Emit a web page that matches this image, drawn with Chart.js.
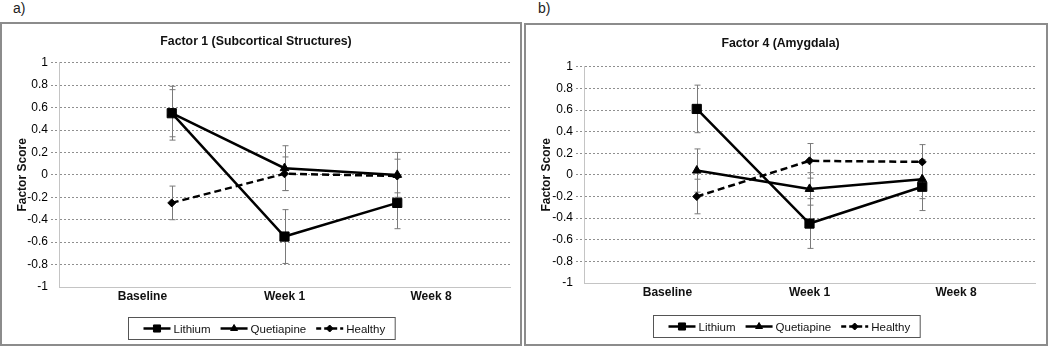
<!DOCTYPE html>
<html>
<head>
<meta charset="utf-8">
<script src="https://cdn.jsdelivr.net/npm/chart.js@4.4.0/dist/chart.umd.min.js"></script>
<style>
  body { margin: 0; background: #fff; font-family: Arial, "Liberation Sans", sans-serif; }
  .tag { position: absolute; top: 0; font-size: 14px; line-height: 17px; color: #222; }
  .frame { position: absolute; border: 2px solid #8c8c8c; box-sizing: border-box; background: #fff; }
  canvas { display: block; }
</style>
</head>
<body>
<div class="tag" style="left:13px">a)</div>
<div class="tag" style="left:538px">b)</div>
<div class="frame" style="left:0;top:22px;width:522px;height:324px"><canvas id="f1" width="518" height="320"></canvas></div>
<div class="frame" style="left:524px;top:23px;width:524px;height:323px"><canvas id="f4" width="520" height="319"></canvas></div>
<script>
const categories = ['Baseline', 'Week 1', 'Week 8'];
const seriesNames = ['Lithium', 'Quetiapine', 'Healthy'];

// Factor 1 (Subcortical Structures)
const f1Lithium = [0.55, -0.55, -0.25];
const f1LithiumErr = [0.24, 0.24, 0.23];
const f1Quetiapine = [0.55, 0.06, 0.0];
const f1QuetiapineErr = [0.21, 0.2, 0.2];
const f1Healthy = [-0.25, 0.01, -0.01];
const f1HealthyErr = [0.15, 0.15, 0.15];

// Factor 4 (Amygdala)
const f4Lithium = [0.61, -0.45, -0.11];
const f4LithiumErr = [0.22, 0.23, 0.22];
const f4Quetiapine = [0.04, -0.13, -0.04];
const f4QuetiapineErr = [0.2, 0.15, 0.18];
const f4Healthy = [-0.2, 0.13, 0.12];
const f4HealthyErr = [0.16, 0.16, 0.16];

Chart.defaults.font.family = 'Arial, "Liberation Sans", sans-serif';
Chart.defaults.color = '#000';

// excel puts the category labels a bit off the points
const labelSlots = [0.74, 2, 3.3];

const styles = [
  { pointStyle: 'rect', pointRadius: 6.5, legendRadius: 5, dash: [], legendDash: [] },
  { pointStyle: 'triangle', pointRadius: 5, legendRadius: 4, dash: [], legendDash: [] },
  { pointStyle: 'rectRot', pointRadius: 4, legendRadius: 3.5, dash: [7, 4], legendDash: [5, 3] },
];

const errorBars = {
  id: 'errorBars',
  beforeDatasetsDraw(chart) {
    const { ctx } = chart;
    const y = chart.scales.y;
    ctx.save();
    ctx.strokeStyle = '#7a7a7a';
    ctx.lineWidth = 1;
    chart.data.datasets.forEach((ds, i) => {
      const meta = chart.getDatasetMeta(i);
      ds.data.forEach((pt, j) => {
        const e = ds.errors[j];
        const x = Math.round(meta.data[j].x) + 0.5;
        const top = y.getPixelForValue(pt.y + e);
        const bot = y.getPixelForValue(pt.y - e);
        ctx.beginPath();
        ctx.moveTo(x, top); ctx.lineTo(x, bot);
        ctx.moveTo(x - 3, top); ctx.lineTo(x + 3, top);
        ctx.moveTo(x - 3, bot); ctx.lineTo(x + 3, bot);
        ctx.stroke();
      });
    });
    ctx.restore();
  }
};

const boxLegend = {
  id: 'boxLegend',
  afterDraw(chart, args, opts) {
    const { ctx } = chart;
    const lineLen = 27, padL = 15, padR = 10, gap = 10, h = 22;
    ctx.save();
    ctx.font = '11.5px Arial, "Liberation Sans", sans-serif';
    const widths = chart.data.datasets.map(ds => lineLen + 3 + ctx.measureText(ds.label).width);
    const total = padL + padR + widths.reduce((a, b) => a + b, 0) + gap * (widths.length - 1);
    const left = Math.round((chart.width - total) / 2) + 0.5;
    const top = opts.top + 0.5;
    ctx.strokeStyle = '#555';
    ctx.lineWidth = 1;
    ctx.strokeRect(left, top, total, h);
    let x = left + padL;
    const cy = top + h / 2;
    chart.data.datasets.forEach((ds, i) => {
      const st = styles[i];
      ctx.strokeStyle = '#000';
      ctx.fillStyle = '#000';
      ctx.lineWidth = 2.5;
      ctx.setLineDash(st.legendDash);
      ctx.beginPath();
      ctx.moveTo(x, cy); ctx.lineTo(x + lineLen, cy);
      ctx.stroke();
      ctx.setLineDash([]);
      ctx.lineWidth = 1;
      Chart.helpers.drawPoint(ctx, { pointStyle: st.pointStyle, radius: st.legendRadius, rotation: 0, borderWidth: 1 }, x + lineLen / 2, cy);
      ctx.fillStyle = '#111';
      ctx.textBaseline = 'middle';
      ctx.fillText(ds.label, x + lineLen + 3, cy + 1);
      x += widths[i] + gap;
    });
    ctx.restore();
  }
};

function makeChart(id, title, values, errors, lay) {
  const datasets = values.map((vals, i) => ({
    label: seriesNames[i],
    data: vals.map((v, j) => ({ x: j + 1, y: v })),
    errors: errors[i],
    borderColor: '#000',
    backgroundColor: '#000',
    borderWidth: 2.5,
    borderDash: styles[i].dash,
    pointStyle: styles[i].pointStyle,
    pointRadius: styles[i].pointRadius,
    pointBorderWidth: 1,
    tension: 0,
  }));

  return new Chart(document.getElementById(id), {
    type: 'line',
    data: { datasets },
    plugins: [errorBars, boxLegend],
    options: {
      responsive: false,
      animation: false,
      layout: { padding: { left: 0, right: lay.right, top: 0, bottom: 0 } },
      scales: {
        x: {
          type: 'linear',
          min: 0,
          max: 4,
          afterBuildTicks: (scale) => { scale.ticks = labelSlots.map(v => ({ value: v })); },
          afterFit: (scale) => { scale.height = lay.xHeight; },
          ticks: {
            autoSkip: false,
            maxRotation: 0,
            padding: 2,
            font: { size: 12, weight: 'bold' },
            color: '#111',
            callback: (v, i) => categories[i],
          },
          grid: { display: false, drawTicks: false },
          border: { display: true, color: '#c4c4c4', width: 1 },
        },
        y: {
          min: -1,
          max: 1,
          afterFit: (scale) => { scale.width = lay.yWidth; },
          ticks: {
            stepSize: 0.2,
            padding: 3,
            font: { size: 12 },
            color: '#000',
            callback: (v) => String(Number(v.toFixed(1))),
          },
          grid: {
            color: (c) => (c.tick && c.tick.value === -1 ? 'rgba(0,0,0,0)' : '#8f8f8f'),
            lineWidth: 1,
            tickLength: 8,
            tickBorderDash: [2, 2],
          },
          border: { display: true, color: '#c4c4c4', width: 1, dash: [2, 2] },
          title: {
            display: true,
            text: 'Factor Score',
            font: { size: 12, weight: 'bold' },
            color: '#111',
            padding: { top: 13, bottom: 0 },
          },
        },
      },
      plugins: {
        legend: { display: false },
        tooltip: { enabled: false },
        title: {
          display: true,
          text: title,
          font: { size: 12.3, weight: 'bold' },
          color: '#111',
          padding: { top: lay.titleTop, bottom: lay.titleBottom },
        },
        boxLegend: { top: lay.legendTop },
      },
    },
  });
}

makeChart('f1', 'Factor 1 (Subcortical Structures)',
  [f1Lithium, f1Quetiapine, f1Healthy],
  [f1LithiumErr, f1QuetiapineErr, f1HealthyErr],
  { right: 10, yWidth: 57, xHeight: 57, titleTop: 10, titleBottom: 14, legendTop: 293 });

makeChart('f4', 'Factor 4 (Amygdala)',
  [f4Lithium, f4Quetiapine, f4Healthy],
  [f4LithiumErr, f4QuetiapineErr, f4HealthyErr],
  { right: 11, yWidth: 58, xHeight: 61, titleTop: 11, titleBottom: 16, legendTop: 290 });
</script>
</body>
</html>
